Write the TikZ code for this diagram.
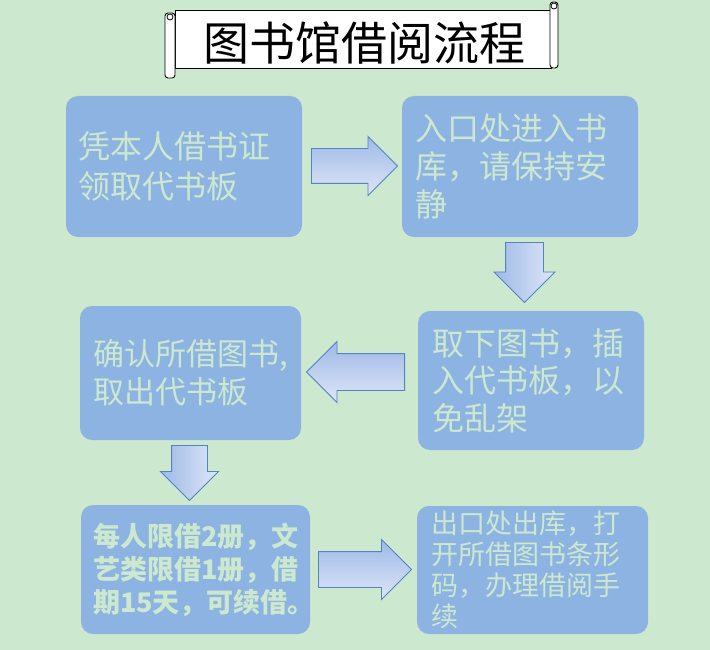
\documentclass[tikz,border=0pt]{standalone}
\usepackage{fontspec}
\usetikzlibrary{shapes.arrows}
\newfontfamily\cjk{Noto Sans CJK SC}
\definecolor{bgcol}{RGB}{204,232,207}
\definecolor{boxcol}{RGB}{141,179,226}
\definecolor{arrowline}{RGB}{84,130,196}
\definecolor{arrowtop}{RGB}{158,185,232}
\definecolor{arrowbot}{RGB}{222,230,246}
\tikzset{
  stepbox/.style={rounded corners=12pt, fill=boxcol, text=bgcol, align=left,
    inner ysep=0pt, anchor=center},
  blockarrow/.style={single arrow, draw=arrowline, line width=0.9pt,
    inner xsep=0pt, anchor=tail},
}
\begin{document}
\begin{tikzpicture}[x=1pt,y=-1pt]
  \fill[bgcol] (0,0) rectangle (710,650);
  % title scroll
  \draw[line width=0.9pt, fill=white] (175,10) rectangle (551,68);
  \draw[line width=0.9pt, fill=white, rounded corners=3pt] (165,13) rectangle (175,78);
  \draw[line width=0.8pt] (170,17) circle (3);
  \draw[line width=0.9pt, fill=white, rounded corners=3pt] (550,2) rectangle (558,68);
  \draw[line width=0.8pt] (554,6) circle (3);
  \node[font=\cjk\fontsize{46}{46}\selectfont] (title) at (364,43) {图书馆借阅流程};
  % steps
  \node[stepbox, minimum width=236, minimum height=141, text width=212, inner xsep=12,
    font=\cjk\fontsize{32}{40}\selectfont] (card) at (184,166.5)
    {凭本人借书证\\领取代书板};
  \node[stepbox, minimum width=236, minimum height=141, text width=210, inner xsep=13,
    font=\cjk\fontsize{32}{38}\selectfont] (enter) at (520,166.5)
    {入口处进入书\\库，请保持安\\静};
  \node[stepbox, minimum width=226, minimum height=139, text width=198, inner xsep=14,
    font=\cjk\fontsize{32}{37.5}\selectfont] (take) at (531,380.5)
    {取下图书，插\\入代书板，以\\免乱架};
  \node[stepbox, minimum width=221, minimum height=134, text width=195, inner xsep=13,
    font=\cjk\fontsize{31}{38}\selectfont] (confirm) at (190.5,373)
    {确认所借图书,\\取出代书板};
  \node[stepbox, minimum width=229, minimum height=129, text width=205, inner xsep=12,
    font=\cjk\bfseries\fontsize{27}{33}\selectfont] (rules) at (195.5,569.5)
    {每人限借2册，文\\艺类限借1册，借\\期15天，可续借。};
  \node[stepbox, minimum width=231, minimum height=128, text width=203, inner xsep=14,
    font=\cjk\fontsize{27}{31}\selectfont] (leave) at (532.5,570)
    {\raisebox{7pt}{\parbox{203pt}{出口处出库，打\\开所借图书条形\\码，办理借阅手\\续}}};
  % block arrows
  \node[blockarrow, top color=arrowtop, bottom color=arrowbot, minimum height=86,
    inner ysep=17, single arrow head extend=12] (arr1) at (311,166) {};
  \node[blockarrow, left color=arrowtop, right color=arrowbot, rotate=-90, minimum height=60,
    inner ysep=18.5, single arrow head extend=11.5] (arr2) at (524.5,242) {};
  \node[blockarrow, top color=arrowtop, bottom color=arrowbot, shape border rotate=180,
    minimum height=98, inner ysep=18, single arrow head extend=12] (arr3) at (405,372) {};
  \node[blockarrow, left color=arrowtop, right color=arrowbot, rotate=-90, minimum height=55,
    inner ysep=17.5, single arrow head extend=11] (arr4) at (189.5,445) {};
  \node[blockarrow, top color=arrowtop, bottom color=arrowbot, minimum height=93,
    inner ysep=17.5, single arrow head extend=12] (arr5) at (318,569.5) {};
\end{tikzpicture}
\end{document}
